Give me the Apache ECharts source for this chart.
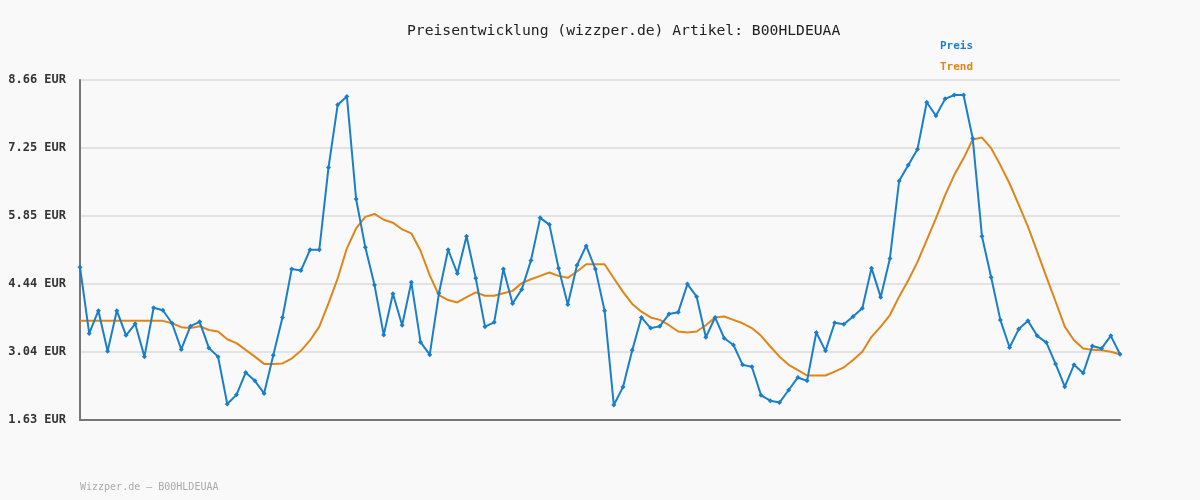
<!DOCTYPE html>
<html><head><meta charset="utf-8">
<script src="https://cdn.jsdelivr.net/npm/echarts@6/dist/echarts.min.js"></script>
<style>html,body{margin:0;background:#f9f9f9}#c{width:1200px;height:500px}</style>
</head><body><div id="c"></div>
<script>
const preis=[4.79,3.42,3.89,3.05,3.89,3.38,3.62,2.94,3.95,3.90,3.63,3.09,3.57,3.66,3.12,2.94,1.96,2.15,2.61,2.44,2.18,2.97,3.75,4.75,4.72,5.15,5.15,6.85,8.15,8.32,6.20,5.20,4.42,3.39,4.24,3.59,4.48,3.24,2.98,4.25,5.15,4.66,5.43,4.56,3.56,3.65,4.75,4.04,4.33,4.93,5.81,5.67,4.77,4.02,4.83,5.23,4.75,3.89,1.94,2.31,3.07,3.75,3.53,3.57,3.82,3.86,4.44,4.18,3.34,3.75,3.32,3.18,2.77,2.73,2.14,2.03,1.99,2.25,2.51,2.44,3.44,3.06,3.64,3.61,3.77,3.94,4.77,4.17,4.97,6.57,6.90,7.23,8.20,7.92,8.27,8.35,8.35,7.45,5.43,4.58,3.70,3.13,3.51,3.68,3.37,3.23,2.79,2.32,2.77,2.60,3.16,3.11,3.37,2.99];
const trend=[3.68,3.68,3.68,3.68,3.68,3.68,3.68,3.68,3.68,3.68,3.63,3.55,3.53,3.57,3.49,3.46,3.30,3.22,3.08,2.94,2.79,2.79,2.80,2.90,3.06,3.28,3.56,4.04,4.56,5.18,5.59,5.83,5.89,5.77,5.71,5.57,5.49,5.13,4.62,4.21,4.11,4.06,4.17,4.27,4.20,4.20,4.25,4.30,4.46,4.54,4.61,4.68,4.61,4.57,4.70,4.85,4.85,4.85,4.56,4.28,4.03,3.87,3.75,3.70,3.59,3.46,3.44,3.46,3.59,3.75,3.77,3.70,3.63,3.53,3.37,3.15,2.94,2.77,2.66,2.55,2.55,2.55,2.63,2.72,2.87,3.04,3.35,3.56,3.80,4.18,4.52,4.90,5.35,5.80,6.28,6.70,7.04,7.43,7.47,7.25,6.90,6.52,6.08,5.63,5.11,4.59,4.08,3.56,3.28,3.11,3.08,3.07,3.04,2.99];
const cats=preis.map((_,i)=>String(i+1));
const yMin=1.63,yMax=8.66;
const mono='DejaVu Sans Mono';
const chart=echarts.init(document.getElementById('c'));
chart.setOption({
 backgroundColor:'#f9f9f9',
 animation:false,
 title:{text:'Preisentwicklung (wizzper.de) Artikel: B00HLDEUAA',left:402,top:19,textStyle:{fontFamily:mono,fontSize:14.7,fontWeight:'normal',color:'#222'}},
 graphic:[
  {type:'text',left:940,top:41,style:{text:'Preis',fill:'#1a7fc9',font:'bold 11px "DejaVu Sans Mono"'}},
  {type:'text',left:940,top:62,style:{text:'Trend',fill:'#e0851a',font:'bold 11px "DejaVu Sans Mono"'}},
  {type:'text',left:80,top:482,style:{text:'Wizzper.de – B00HLDEUAA',fill:'#aaa',font:'10px "DejaVu Sans Mono"'}}
 ],
 grid:{left:80,right:80,top:80,bottom:80},
 xAxis:{type:'category',data:cats,boundaryGap:false,axisTick:{show:false},axisLabel:{show:false},axisLine:{lineStyle:{color:'#777',width:2}}},
 yAxis:{type:'value',min:yMin,max:yMax,interval:(yMax-yMin)/5,
  axisLine:{show:true,lineStyle:{color:'#777',width:2}},axisTick:{show:false},
  axisLabel:{formatter:v=>v.toFixed(2)+' EUR',fontFamily:mono,fontSize:12,color:'#333',fontWeight:'bold',margin:14},
  splitLine:{lineStyle:{color:'#e3e3e3',width:2}}},
 series:[
  {name:'Preis',type:'line',data:preis,symbol:'diamond',symbolSize:5,showAllSymbol:true,z:3,lineStyle:{color:'#1a7fc9',width:2},itemStyle:{color:'#1a7fc9'}},
  {name:'Trend',type:'line',data:trend,symbol:'none',z:2,lineStyle:{color:'#e0851a',width:2}}
 ]
});
</script></body></html>
